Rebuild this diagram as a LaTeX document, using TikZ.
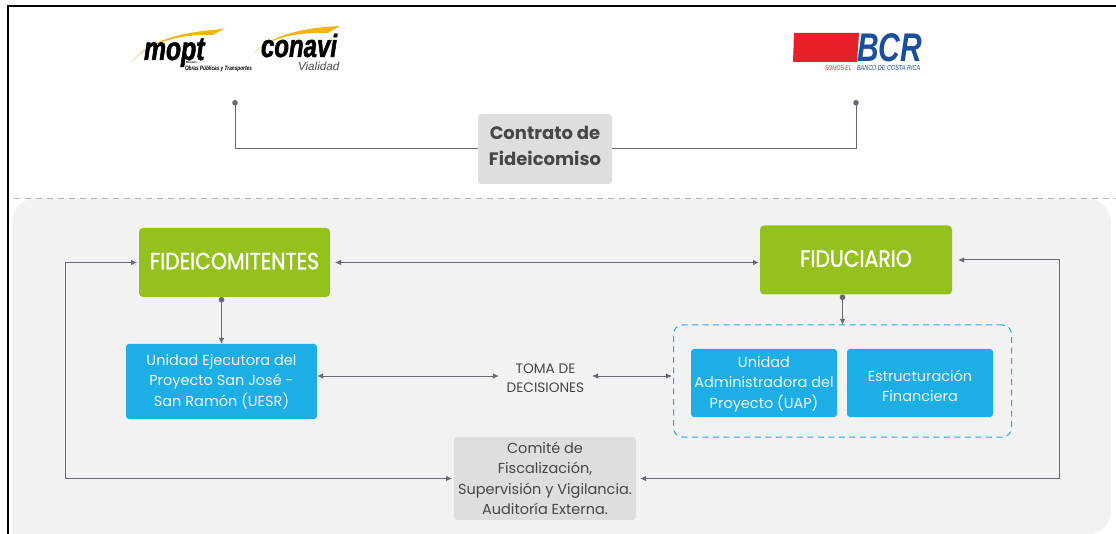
\documentclass[tikz,border=0pt]{standalone}
\usepackage{fontspec}
\setmainfont{Poppins}
\newfontfamily\logofont[FakeStretch=0.75]{Liberation Sans}
\newfontfamily\logoboldfont[FakeStretch=0.75,BoldItalicFeatures={FakeBold=1.5}]{Liberation Sans}
\newfontfamily\logowidefont{Liberation Sans}
\usetikzlibrary{arrows.meta, positioning}
\definecolor{panelgray}{HTML}{F2F2F2}
\definecolor{boxgray}{HTML}{DEDEDE}
\definecolor{leafgreen}{HTML}{95C11F}
\definecolor{skyblue}{HTML}{1EAEE6}
\definecolor{linegray}{HTML}{666973}
\definecolor{swoosh}{HTML}{F5B31A}
\definecolor{bcrred}{HTML}{E8202A}
\definecolor{bcrblue}{HTML}{1A4F9C}
\tikzset{> = { Latex[length = 6pt, width = 5.5pt] }}
\begin{document}
\begin{tikzpicture}[x = 1pt, y = 1pt, outer sep = 0pt, inner sep = 0pt, align = center,
	link/.style = { draw = linegray, line width = 1pt },
	dotlink/.style = { link, {Circle[length = 5.5pt, width = 5.5pt]}-> },
	dotline/.style = { link, {Circle[length = 5.5pt, width = 5.5pt]}- },
	graybox/.style = { fill = boxgray, rounded corners = 3pt, text = black!72 },
	greenbox/.style = { fill = leafgreen, rounded corners = 4pt, text = white, text depth = 3pt, minimum height = 69pt, font = \fontsize{23.5}{28}\selectfont\addfontfeatures{FakeStretch=0.87,FakeBold=1.2} },
	bluebox/.style = { fill = skyblue, rounded corners = 3pt, text = white!92!skyblue, font = \fontsize{14.5}{20.5}\selectfont, minimum height = 68pt, minimum width = 146pt },
	logotext/.style = { anchor = base west, text depth = 0pt }]
	\useasboundingbox (0, 0) rectangle (1116, -534);

	\fill [panelgray] (12, -534) -- (12, -222) arc [start angle = 180, end angle = 90, radius = 24] -- (1086, -198) arc [start angle = 90, end angle = 0, radius = 25] -- (1111, -512) arc [start angle = 0, end angle = -90, radius = 22] -- cycle;
	\draw [black!30, dashed, dash pattern = on 6pt off 5pt] (14, -198) -- (1116, -198);
	\draw [black, line width = 1.6pt] (8, -534) -- (8, -6) -- (1116, -6);

	\fill [swoosh] (131, -62) .. controls (150, -40) and (180, -32) .. (224, -29) -- (213, -35) .. controls (180, -34) and (150, -42) .. (131, -62) -- cycle;
	\fill [swoosh] (248, -59) .. controls (265, -38) and (295, -28) .. (340, -26) -- (328, -33) .. controls (295, -32) and (265, -38) .. (248, -59) -- cycle;
	\fill [bcrred] (794, -33) -- (859, -33) -- (857, -62) -- (793, -62) -- cycle;

	\node [logotext, font = \logoboldfont\bfseries\itshape\fontsize{33}{33}\selectfont] (mopt) at (144, -60) {mopt};
	\node [logotext, font = \logoboldfont\bfseries\itshape\fontsize{32}{32}\selectfont] (conavi) at (261, -57) {conavi};
	\node [logotext, font = \logowidefont\itshape\fontsize{11.7}{12}\selectfont, text = black!70] (vialidad) at (298, -71) {Vialidad};
	\node [logotext, font = \logofont\bfseries\itshape\fontsize{3}{3}\selectfont] (ministerio) at (186, -64) {Ministerio};
	\node [logotext, font = \logofont\bfseries\itshape\fontsize{6.3}{6.3}\selectfont] (obras) at (185, -71) {Obras Públicas y Transportes};
	\node [logotext, font = \logofont\bfseries\itshape\fontsize{40}{40}\selectfont, text = bcrblue] (bcr) at (857, -62) {BCR};
	\node [logotext, font = \logofont\itshape\fontsize{6.8}{6.8}\selectfont, text = bcrred] (somos) at (825, -71) {SOMOS EL};
	\node [logotext, font = \logofont\itshape\fontsize{7.3}{7.3}\selectfont, text = bcrblue] (banco) at (857, -71) {BANCO DE COSTA RICA};

	\coordinate (mopc) at (235, -100);
	\coordinate (bcrc) at (856, -100);
	\node [graybox, minimum width = 134pt, minimum height = 70pt, text depth = 6pt, font = \fontsize{18}{26}\selectfont\bfseries] (contrato) at (545, -149) {Contrato de\\Fideicomiso};

	\node [greenbox, minimum width = 191pt] (fideicomitentes) at (234.5, -262.5) {FIDEICOMITENTES};
	\node [greenbox, minimum width = 192pt] (fiduciario) at (856, -260) {FIDUCIARIO};
	\node [bluebox, minimum width = 191pt, minimum height = 75pt] (uesr) at (221.5, -381.5) {Unidad Ejecutora del\\Proyecto San José -\\San Ramón (UESR)};
	\node [bluebox, text depth = 2pt] (uap) at (764, -383) {Unidad\\Administradora del\\Proyecto (UAP)};
	\node [bluebox, text height = 37.5pt, right = 10pt of uap] (estructuracion) {Estructuración\\Financiera};
	\node [draw = skyblue, line width = 1pt, dashed, dash pattern = on 6pt off 4.5pt, rounded corners = 9pt, minimum width = 338pt, minimum height = 112pt] (grupo) at (842.5, -381) {};
	\node [text = black!72, font = \fontsize{13.7}{19}\selectfont, minimum width = 93pt] (toma) at (545.5, -378.5) {TOMA DE\\DECISIONES};
	\node [graybox, minimum width = 182pt, minimum height = 83pt, font = \fontsize{14.5}{20.5}\selectfont] (comite) at (545, -478.5) {Comité de\\Fiscalización,\\Supervisión y Vigilancia.\\Auditoría Externa.};

	\draw [dotline] (mopc) |- (contrato.west);
	\draw [dotline] (bcrc) |- (contrato.east);
	\draw [link, <->] ([xshift = 5pt] fideicomitentes.east) -- ([xshift = -1pt] fiduciario.west |- fideicomitentes.east);
	\draw [dotlink] ([xshift = -13pt] fideicomitentes.south) -- (uesr.north);
	\draw [dotlink] ([xshift = -13.5pt] fiduciario.south) -- (grupo.north);
	\draw [link, <->] ([yshift = 2.5pt] uesr.east |- toma) -- ([yshift = 2.5pt] toma.west);
	\draw [link, <->] ([yshift = 2.5pt] toma.east) -- ([yshift = 2.5pt, xshift = -1.5pt] grupo.west |- toma);
	\draw [link, <->] ([xshift = -2pt] fideicomitentes.west) -- ++(-72, 0) |- ([xshift = -2pt] comite.west);
	\draw [link, <->] ([xshift = 6pt] fiduciario.east) -- ++(101, 0) |- ([xshift = 4pt] comite.east);
\end{tikzpicture}
\end{document}
